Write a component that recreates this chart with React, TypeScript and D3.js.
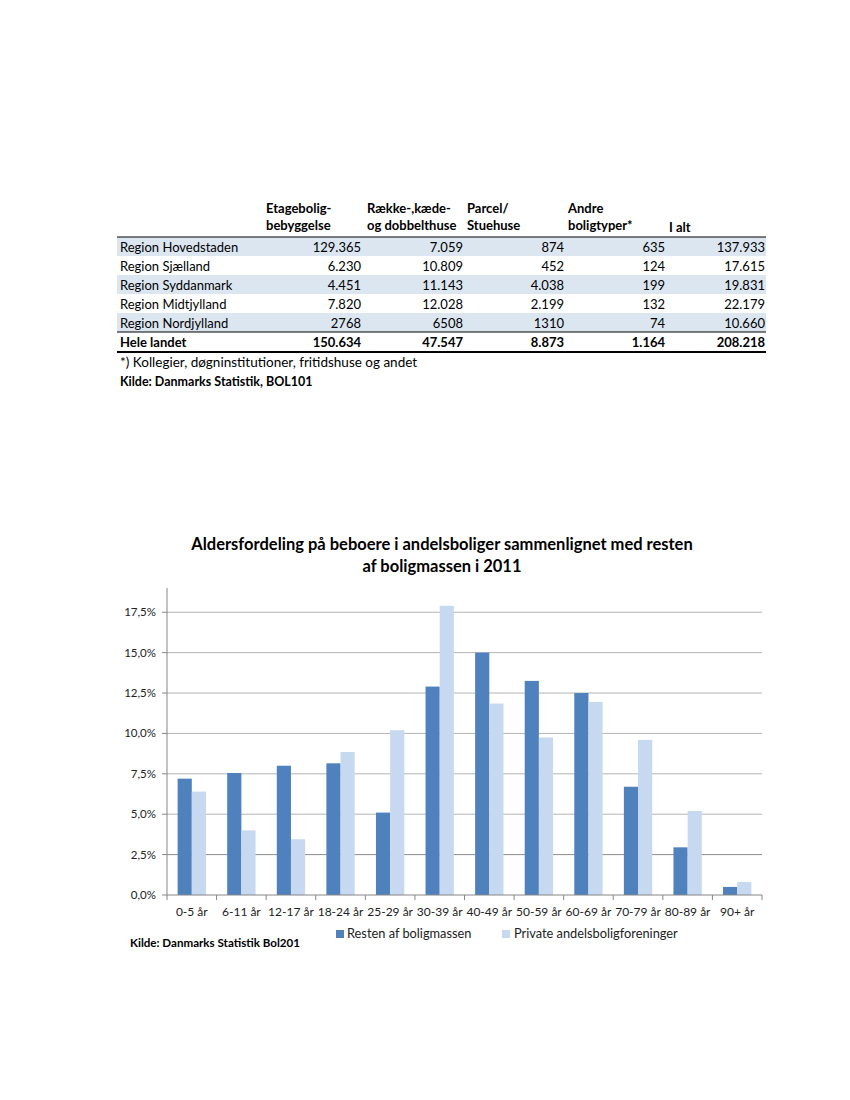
import * as d3 from "d3";

// Table data (BOL101)
const regions = [
  "Region Hovedstaden",
  "Region Sjælland",
  "Region Syddanmark",
  "Region Midtjylland",
  "Region Nordjylland",
];
const etagebolig = ["129.365", "6.230", "4.451", "7.820", "2768"];
const raekkehuse = ["7.059", "10.809", "11.143", "12.028", "6508"];
const parcelhuse = ["874", "452", "4.038", "2.199", "1310"];
const andreTyper = ["635", "124", "199", "132", "74"];
const iAlt = ["137.933", "17.615", "19.831", "22.179", "10.660"];
const heleLandet = ["150.634", "47.547", "8.873", "1.164", "208.218"];
const tableHeaders = [
  ["Etagebolig-", "bebyggelse"],
  ["Række-,kæde-", "og dobbelthuse"],
  ["Parcel/", "Stuehuse"],
  ["Andre", "boligtyper*"],
  ["", "I alt"],
];

// Chart data (Bol201), percent
const ageGroups = [
  "0-5 år", "6-11 år", "12-17 år", "18-24 år", "25-29 år", "30-39 år",
  "40-49 år", "50-59 år", "60-69 år", "70-79 år", "80-89 år", "90+ år",
];
const resten = [7.2, 7.55, 8.0, 8.15, 5.1, 12.9, 15.0, 13.25, 12.5, 6.7, 2.95, 0.5];
const privateForeninger = [6.4, 4.0, 3.45, 8.85, 10.2, 17.9, 11.85, 9.75, 11.95, 9.6, 5.2, 0.8];
const yTicks = [0, 2.5, 5, 7.5, 10, 12.5, 15, 17.5];
const seriesNames = ["Resten af boligmassen", "Private andelsboligforeninger"];

const DARK = "#4f81bd";
const LIGHT = "#c6d9f0";
const FONT = "Lato, 'Open Sans', sans-serif";

const App = () => {
  // table layout
  const tLeft = 117;
  const tRight = 766;
  const colHeadX = [266, 367, 467, 568, 669];
  const colValX = [361, 463, 564, 665, 765];
  const columns = [etagebolig, raekkehuse, parcelhuse, andreTyper, iAlt];
  const rowY = d3
    .scaleBand()
    .domain([...regions, "Hele landet"])
    .range([237, 237 + 19 * 6]);

  // chart layout
  const x = d3.scaleBand().domain(ageGroups).range([167, 762]);
  const xi = d3
    .scaleBand()
    .domain(["resten", "private"])
    .range([0, x.bandwidth()])
    .paddingInner(0)
    .paddingOuter(0.75);
  const y = d3.scaleLinear().domain([0, 19]).range([895, 588]);
  const fmt = (v: number) => d3.format(".1f")(v).replace(".", ",") + "%";

  return (
    <svg
      width={850}
      height={1100}
      style={{ position: "absolute", left: 0, top: 0, background: "#fff" }}
    >
      {/* ---------- Table ---------- */}
      <g fontFamily={FONT} fontSize={13} fill="#000">
        {tableHeaders.map((lines, i) =>
          lines.map((t, j) => (
            <text
              key={`h${i}${j}`}
              x={colHeadX[i]}
              y={i === 4 ? 232 : 213 + j * 17}
              fontWeight="bold"
            >
              {t}
            </text>
          ))
        )}
        {regions.map((r, i) => (
          <g key={r}>
            {i % 2 === 0 && (
              <rect
                x={tLeft}
                y={rowY(r)}
                width={tRight - tLeft}
                height={rowY.bandwidth()}
                fill="#dce6f1"
              />
            )}
            <text x={120} y={rowY(r)! + 15}>
              {r}
            </text>
            {columns.map((col, c) => (
              <text key={c} x={colValX[c]} y={rowY(r)! + 15} textAnchor="end">
                {col[i]}
              </text>
            ))}
          </g>
        ))}
        <line x1={tLeft} x2={tRight} y1={237} y2={237} stroke="#000" strokeWidth={1.2} />
        <line
          x1={tLeft}
          x2={tRight}
          y1={rowY("Hele landet")}
          y2={rowY("Hele landet")}
          stroke="#000"
          strokeWidth={1.2}
        />
        <text x={120} y={rowY("Hele landet")! + 15} fontWeight="bold">
          Hele landet
        </text>
        {heleLandet.map((v, c) => (
          <text
            key={c}
            x={colValX[c]}
            y={rowY("Hele landet")! + 15}
            textAnchor="end"
            fontWeight="bold"
          >
            {v}
          </text>
        ))}
        <line x1={tLeft} x2={tRight} y1={352} y2={352} stroke="#000" strokeWidth={2.2} />
        <text x={120} y={367} fontSize={13.5}>
          *) Kollegier, døgninstitutioner, fritidshuse og andet
        </text>
        <text x={120} y={386} fontWeight="bold" fontSize={12.5}>
          Kilde: Danmarks Statistik, BOL101
        </text>
      </g>

      {/* ---------- Chart ---------- */}
      <g fontFamily={FONT}>
        <text x={442} y={550} textAnchor="middle" fontWeight="bold" fontSize={16.5}>
          Aldersfordeling på beboere i andelsboliger sammenlignet med resten
        </text>
        <text x={442} y={572} textAnchor="middle" fontWeight="bold" fontSize={16.5}>
          af boligmassen i 2011
        </text>
      </g>

      {/* gridlines + y ticks */}
      <g>
        {yTicks.map((t) => (
          <g key={t}>
            {t > 0 && (
              <line
                x1={167}
                x2={762}
                y1={y(t)}
                y2={y(t)}
                stroke={t === 2.5 ? "#8c8c8c" : "#b4b4b4"}
                strokeWidth={1}
              />
            )}
            <line x1={162} x2={167} y1={y(t)} y2={y(t)} stroke="#868686" />
            <text
              x={156}
              y={y(t) + 4}
              textAnchor="end"
              fontFamily={FONT}
              fontSize={11.5}
              fill="#222"
            >
              {fmt(t)}
            </text>
          </g>
        ))}
      </g>

      {/* bars */}
      <g>
        {ageGroups.map((g, i) => (
          <g key={g} transform={`translate(${x(g)},0)`}>
            <rect
              x={xi("resten")}
              y={y(resten[i])}
              width={xi.bandwidth()}
              height={y(0) - y(resten[i])}
              fill={DARK}
            />
            <rect
              x={xi("private")}
              y={y(privateForeninger[i])}
              width={xi.bandwidth()}
              height={y(0) - y(privateForeninger[i])}
              fill={LIGHT}
            />
          </g>
        ))}
      </g>

      {/* axes */}
      <line x1={167} x2={167} y1={588} y2={895} stroke="#868686" />
      <line x1={167} x2={762} y1={895} y2={895} stroke="#868686" />
      {ageGroups.map((g) => (
        <line
          key={`t${g}`}
          x1={x(g)! + x.bandwidth()}
          x2={x(g)! + x.bandwidth()}
          y1={895}
          y2={900}
          stroke="#868686"
        />
      ))}
      <line x1={167} x2={167} y1={895} y2={900} stroke="#868686" />
      {ageGroups.map((g) => (
        <text
          key={`l${g}`}
          x={x(g)! + x.bandwidth() / 2}
          y={916}
          textAnchor="middle"
          fontFamily={FONT}
          fontSize={12}
          fill="#222"
        >
          {g}
        </text>
      ))}

      {/* legend */}
      <g fontFamily={FONT} fontSize={12.8} fill="#222">
        <rect x={336} y={930} width={8} height={8} fill={DARK} />
        <text x={347} y={938}>
          {seriesNames[0]}
        </text>
        <rect x={502} y={930} width={8} height={8} fill={LIGHT} />
        <text x={514} y={938}>
          {seriesNames[1]}
        </text>
      </g>
      <text x={130} y={947} fontFamily={FONT} fontWeight="bold" fontSize={11.6}>
        Kilde: Danmarks Statistik Bol201
      </text>
    </svg>
  );
};

export default App;
